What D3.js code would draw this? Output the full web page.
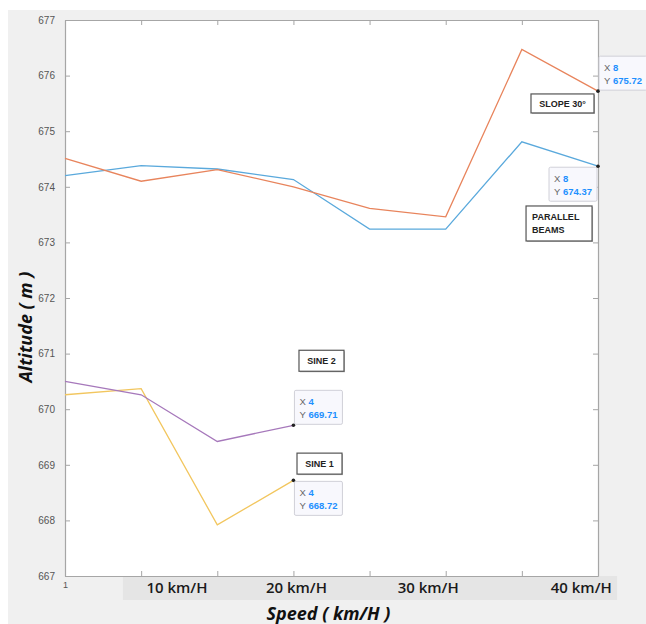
<!DOCTYPE html>
<html>
<head>
<meta charset="utf-8">
<script src="https://cdn.jsdelivr.net/npm/d3@7"></script>
<style>
  html, body { margin: 0; padding: 0; background: #fff; }
  svg { display: block; }
</style>
</head>
<body>
<div id="chart"></div>
<script>
const width = 646;
const height = 624;
const margin = { left: 65, right: 48, top: 20, bottom: 48 };

// values
const xValues = [1, 2, 3, 4, 5, 6, 7, 8];
const parallelBeams = [674.2, 674.38, 674.32, 674.13, 673.24, 673.24, 674.81, 674.37];
const slope30 = [674.51, 674.1, 674.31, 674.0, 673.61, 673.46, 676.47, 675.72];
const sine2 = [670.5, 670.26, 669.42, 669.71];
const sine1 = [670.26, 670.37, 667.92, 668.72];

const yTicks = [667, 668, 669, 670, 671, 672, 673, 674, 675, 676, 677];
const speedLabels = ["10 km/H", "20 km/H", "30 km/H", "40 km/H"];
const speedLabelPos = [2.47, 4.04, 5.77, 7.78];

const series = [
  { name: "PARALLEL BEAMS", values: parallelBeams, color: "#5aa9dc" },
  { name: "SLOPE 30°", values: slope30, color: "#e8845c" },
  { name: "SINE 1", values: sine1, color: "#f2c65e" },
  { name: "SINE 2", values: sine2, color: "#a678bb" },
];

// text boxes, anchored in data coordinates (top-left corner)
const labelBoxes = [
  { lines: ["SLOPE 30°"], x: 7.12, y: 675.67, w: 63, h: 19, center: true },
  { lines: ["PARALLEL", "BEAMS"], x: 7.055, y: 673.655, w: 66, h: 35, center: false },
  { lines: ["SINE 2"], x: 4.073, y: 671.06, w: 45, h: 21, center: true },
  { lines: ["SINE 1"], x: 4.047, y: 669.21, w: 45, h: 21, center: true },
];

// data tips: which series/point, and where the box sits
const dataTips = [
  { series: 1, index: 7, side: "above-right" },
  { series: 0, index: 7, side: "below-left" },
  { series: 3, index: 3, side: "above-right" },
  { series: 2, index: 3, side: "below-right" },
];

const svg = d3
  .select("#chart")
  .append("svg")
  .attr("width", width)
  .attr("height", height);

// figure background
svg
  .append("rect")
  .attr("x", 8)
  .attr("y", 10)
  .attr("width", width - 8)
  .attr("height", height - 10)
  .attr("fill", "#f0f0f0");

const xScale = d3
  .scaleLinear()
  .domain([1, 8])
  .range([margin.left, width - margin.right]);

const yScale = d3
  .scaleLinear()
  .domain([667, 677])
  .range([height - margin.bottom, margin.top]);

// grey band behind the speed labels
svg
  .append("rect")
  .attr("x", xScale(1.76))
  .attr("y", yScale(667))
  .attr("width", xScale(8.25) - xScale(1.76))
  .attr("height", 24)
  .attr("fill", "#e5e5e5");

// plot area
svg
  .append("rect")
  .attr("x", xScale(1))
  .attr("y", yScale(677))
  .attr("width", xScale(8) - xScale(1))
  .attr("height", yScale(667) - yScale(677))
  .attr("fill", "#fff");

const axisColor = "#a6a6a6";
const tickLen = 5;

const styleAxis = (g) => {
  g.select(".domain").attr("stroke", axisColor).attr("stroke-width", 1.2);
  g.selectAll(".tick line").attr("stroke", axisColor);
};

svg
  .append("g")
  .attr("transform", `translate(${margin.left},0)`)
  .call(d3.axisLeft(yScale).tickValues(yTicks).tickSizeInner(-tickLen).tickSizeOuter(0).tickPadding(10))
  .call(styleAxis)
  .call((g) =>
    g
      .selectAll(".tick text")
      .attr("fill", "#555")
      .attr("font-family", "Liberation Sans, Arial, sans-serif")
      .attr("font-size", 10)
  );

svg
  .append("g")
  .attr("transform", `translate(${width - margin.right},0)`)
  .call(d3.axisRight(yScale).tickValues(yTicks).tickSizeInner(-tickLen).tickSizeOuter(0).tickFormat(""))
  .call(styleAxis);

svg
  .append("g")
  .attr("transform", `translate(0,${margin.top})`)
  .call(d3.axisTop(xScale).tickValues(xValues).tickSizeInner(-tickLen).tickSizeOuter(0).tickFormat(""))
  .call(styleAxis);

svg
  .append("g")
  .attr("transform", `translate(0,${height - margin.bottom})`)
  .call(
    d3
      .axisBottom(xScale)
      .tickValues(xValues)
      .tickSizeInner(-tickLen)
      .tickSizeOuter(0)
      .tickPadding(6)
      .tickFormat((d) => (d === 1 ? "1" : ""))
  )
  .call(styleAxis)
  .call((g) =>
    g
      .selectAll(".tick text")
      .attr("fill", "#555")
      .attr("font-family", "Liberation Sans, Arial, sans-serif")
      .attr("font-size", 9)
  );

// speed labels
svg
  .append("g")
  .selectAll("text")
  .data(speedLabels)
  .join("text")
  .attr("x", (d, i) => xScale(speedLabelPos[i]))
  .attr("y", yScale(667) + 17)
  .attr("text-anchor", "middle")
  .attr("font-family", "Open Sans, sans-serif")
  .attr("font-weight", 600)
  .attr("font-size", 15)
  .attr("fill", "#1a1a1a")
  .text((d) => d);

// axis titles
svg
  .append("text")
  .attr("x", xScale(4.5) - 3)
  .attr("y", 620)
  .attr("text-anchor", "middle")
  .attr("font-family", "Open Sans, sans-serif")
  .attr("font-weight", 700)
  .attr("font-style", "italic")
  .attr("font-size", 18)
  .attr("fill", "#111")
  .text("Speed ( km/H )");

svg
  .append("text")
  .attr("transform", `translate(32,${(yScale(667) + yScale(677)) / 2 + 29}) rotate(-90)`)
  .attr("text-anchor", "middle")
  .attr("font-family", "Open Sans, sans-serif")
  .attr("font-weight", 700)
  .attr("font-style", "italic")
  .attr("font-size", 18)
  .attr("fill", "#111")
  .text("Altitude ( m )");

// lines
const line = d3
  .line()
  .x((d, i) => xScale(xValues[i]))
  .y((d) => yScale(d));

svg
  .append("g")
  .selectAll("path")
  .data(series)
  .join("path")
  .attr("d", (d) => line(d.values))
  .attr("fill", "none")
  .attr("stroke", (d) => d.color)
  .attr("stroke-width", 1.3);

// label boxes
const boxGroup = svg
  .append("g")
  .selectAll("g")
  .data(labelBoxes)
  .join("g")
  .attr("transform", (d) => `translate(${xScale(d.x)},${yScale(d.y)})`);

boxGroup
  .append("rect")
  .attr("x", 1)
  .attr("y", 1)
  .attr("width", (d) => d.w)
  .attr("height", (d) => d.h)
  .attr("fill", "#bbb");

boxGroup
  .append("rect")
  .attr("width", (d) => d.w)
  .attr("height", (d) => d.h)
  .attr("fill", "#fff")
  .attr("stroke", "#555")
  .attr("stroke-width", 1.2);

boxGroup.each(function (d) {
  const g = d3.select(this);
  const lineH = 13;
  const startY = d.h / 2 - ((d.lines.length - 1) * lineH) / 2 + 3.3;
  d.lines.forEach((t, i) => {
    g.append("text")
      .attr("x", d.center ? d.w / 2 : 6)
      .attr("y", startY + i * lineH)
      .attr("text-anchor", d.center ? "middle" : "start")
      .attr("font-family", "Liberation Sans, Arial, sans-serif")
      .attr("font-weight", 700)
      .attr("font-size", 9)
      .attr("fill", "#222")
      .text(t);
  });
});

// data tips
const tipW = 48;
const tipH = 34;

dataTips.forEach((tip) => {
  const s = series[tip.series];
  const px = xScale(xValues[tip.index]);
  const py = yScale(s.values[tip.index]);
  const left = tip.side.endsWith("left") ? px - tipW - 1 : px + 1;
  const top = tip.side.startsWith("above") ? py - tipH - 1 : py + 1;

  const g = svg.append("g").attr("transform", `translate(${left},${top})`);
  g.append("rect")
    .attr("width", tipW)
    .attr("height", tipH)
    .attr("rx", 1.5)
    .attr("fill", "#f8f8fd")
    .attr("stroke", "#d0d0d8")
    .attr("stroke-width", 1);

  const rows = [
    ["X", String(xValues[tip.index])],
    ["Y", d3.format(".2f")(s.values[tip.index])],
  ];
  rows.forEach((r, i) => {
    const t = g
      .append("text")
      .attr("x", 5)
      .attr("y", 15 + i * 12.5)
      .attr("font-family", "Liberation Sans, Arial, sans-serif")
      .attr("font-size", 9.5);
    t.append("tspan").attr("fill", "#666").text(r[0]);
    t.append("tspan").attr("x", 14).attr("fill", "#1e90ff").attr("font-weight", 700).text(r[1]);
  });

  svg
    .append("circle")
    .attr("cx", px)
    .attr("cy", py)
    .attr("r", 1.8)
    .attr("fill", "#222");
});
</script>
</body>
</html>
